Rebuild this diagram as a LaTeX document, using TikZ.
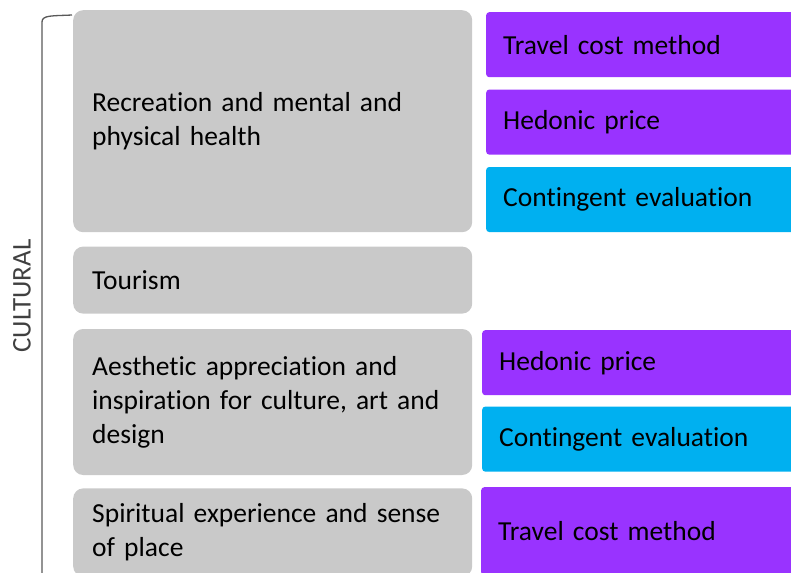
\documentclass[tikz,border=0pt]{standalone}
\usepackage{fontspec}
\setmainfont{Carlito}[Ligatures=NoCommon]
\usetikzlibrary{positioning}

\definecolor{servicegrey}{RGB}{201,201,201}
\definecolor{methodpurple}{RGB}{153,51,255}
\definecolor{methodblue}{RGB}{0,176,240}

\begin{document}
\begin{tikzpicture}[x=1pt,y=-1pt,
  service/.style = {fill=servicegrey, rounded corners=10pt, anchor=north west, text width=361pt, inner xsep=19pt, align=left, font=\fontsize{27.5}{34}\selectfont},
  method/.style = {fill=methodpurple, rounded corners=3pt, anchor=north west, text width=300pt, inner xsep=17pt, align=left, minimum height=65pt, font=\fontsize{27.5}{34}\selectfont},
  contingent/.style = {method, fill=methodblue}]
\useasboundingbox (0,0) rectangle (791,572);
\clip (0,0) rectangle (791,572);

% ecosystem services
\node[service, minimum height=222pt] (1) at (73,10) {Recreation and mental and\\physical health};
\node[service, minimum height=67pt] (2) [below=14pt of 1.south west, anchor=north west] {Tourism};
\node[service, minimum height=146pt] (3) [below=15pt of 2.south west, anchor=north west] {Aesthetic appreciation and\\inspiration for culture, art and\\design};
\node[service, minimum height=88pt] (4) [below=13pt of 3.south west, anchor=north west] {Spiritual experience and sense\\of place};

% valuation methods
\node[method] (m1) at (486,12) {Travel cost method};
\node[method] (m2) [below=12pt of m1.south west, anchor=north west] {Hedonic price};
\node[contingent] (m3) [below=12pt of m2.south west, anchor=north west] {Contingent evaluation};
\node[method] (m4) at (482,330) {Hedonic price};
\node[contingent] (m5) [below=11pt of m4.south west, anchor=north west] {Contingent evaluation};
\node[method, minimum height=88pt] (m6) at (481,487) {Travel cost method};

% bracket and category
\coordinate (top) at (72,15);
\draw[black!65, line width=1.3pt] (top) .. controls (52,16) and (42,15) .. (42,22) -- (42,580);
\node[rotate=90, text=black!75, font=\fontsize{27}{34}\selectfont] (cat) at (22,296) {CULTURAL};
\end{tikzpicture}
\end{document}
